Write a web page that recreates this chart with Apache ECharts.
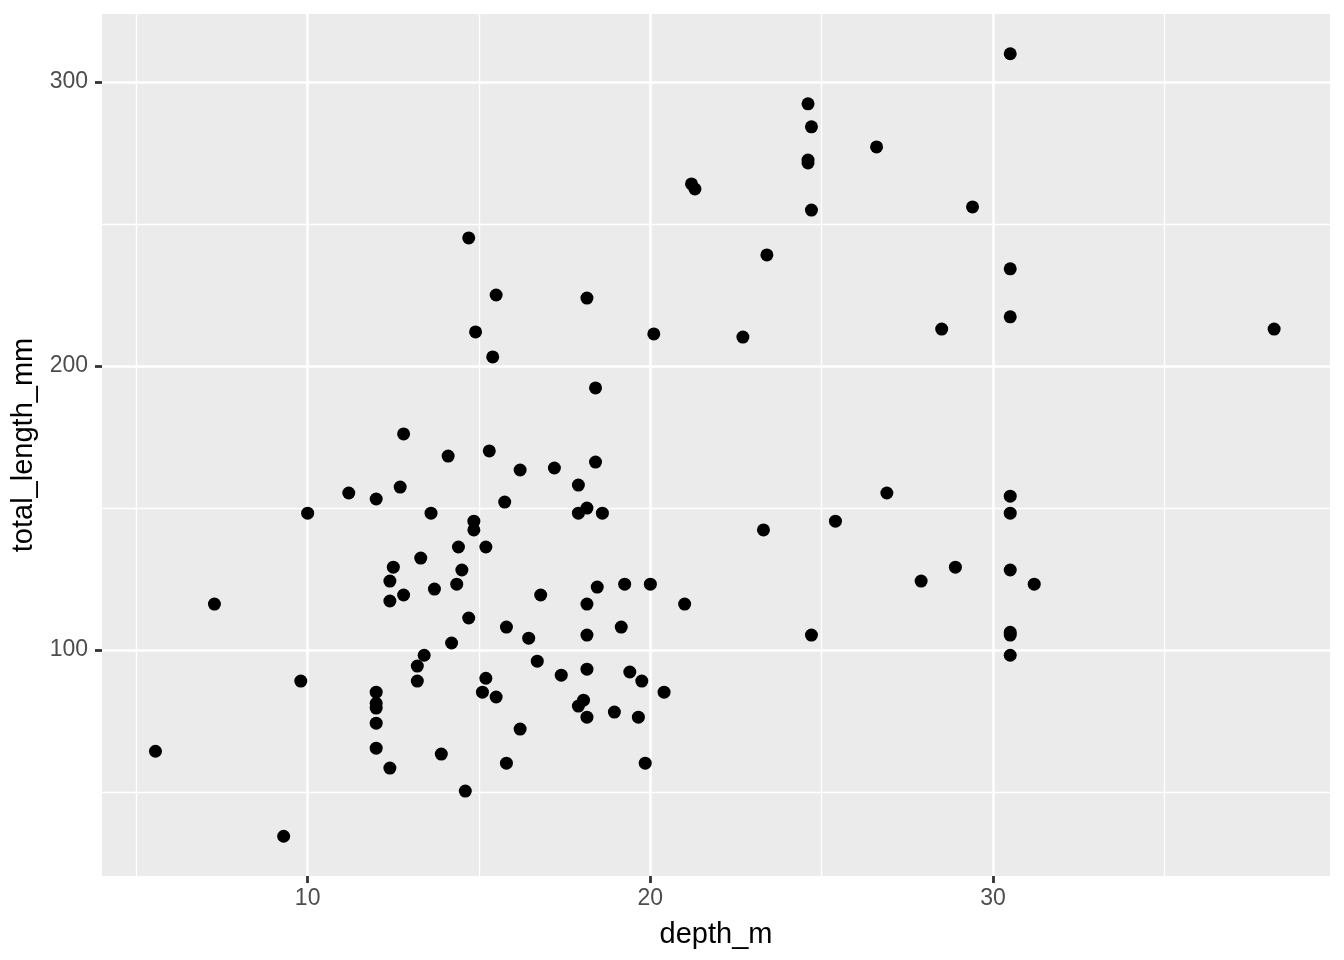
<!DOCTYPE html>
<html>
<head>
<meta charset="utf-8">
<title>total_length_mm vs depth_m</title>
<script src="https://cdn.jsdelivr.net/npm/echarts@6/dist/echarts.min.js"></script>
<style>
  html, body { margin: 0; padding: 0; background: #ffffff; }
  #chart { width: 1344px; height: 960px; }
</style>
</head>
<body>
<div id="chart"></div>
<script>
// values
var depthM = [
  5.56, 7.28, 9.3, 9.8, 10.0, 11.2, 12.0, 12.0, 12.0, 12.0,
  12.0, 12.0, 12.4, 12.4, 12.4, 12.5, 12.7, 12.8, 12.8, 13.2,
  13.2, 13.3, 13.4, 13.6, 13.7, 13.9, 14.1, 14.2, 14.35, 14.4,
  14.5, 14.6, 14.7, 14.7, 14.85, 14.85, 14.9, 15.1, 15.2, 15.2,
  15.3, 15.4, 15.5, 15.5, 15.75, 15.8, 15.8, 16.2, 16.2, 16.45,
  16.7, 16.8, 17.2, 17.4, 17.9, 17.9, 17.9, 18.05, 18.15, 18.15,
  18.15, 18.15, 18.15, 18.15, 18.4, 18.4, 18.45, 18.6, 18.95, 19.15,
  19.25, 19.4, 19.65, 19.75, 19.85, 20.0, 20.1, 20.4, 21.0, 21.2,
  21.3, 22.7, 23.3, 23.4, 24.6, 24.6, 24.6, 24.7, 24.7, 24.7,
  25.4, 26.6, 26.9, 27.9, 28.5, 28.9, 29.4, 30.5, 30.5, 30.5,
  30.5, 30.5, 30.5, 30.5, 30.5, 30.5, 31.2, 38.2
];
var totalLengthMm = [
  64.4, 116.2, 34.5, 89.1, 148.2, 155.3, 153.2, 85.2, 81.3, 79.6,
  74.3, 65.5, 58.5, 124.3, 117.3, 129.2, 157.4, 119.4, 176.1, 89.1,
  94.4, 132.4, 98.2, 148.2, 121.5, 63.4, 168.3, 102.5, 123.2, 136.3,
  128.2, 50.4, 245.1, 111.3, 145.4, 142.3, 212.0, 85.2, 90.1, 136.3,
  170.1, 203.2, 83.5, 225.0, 152.1, 108.1, 60.2, 72.2, 163.4, 104.2,
  96.1, 119.4, 164.1, 91.2, 158.1, 148.2, 80.3, 82.4, 116.2, 105.3,
  93.3, 76.4, 150.0, 223.9, 192.3, 166.2, 122.2, 148.2, 78.2, 108.1,
  123.2, 92.3, 76.4, 89.1, 60.2, 123.2, 211.3, 85.2, 116.2, 264.1,
  262.3, 210.2, 142.3, 239.1, 292.3, 272.5, 271.5, 284.2, 254.9, 105.3,
  145.4, 277.1, 155.3, 124.3, 213.0, 129.2, 256.0, 309.9, 234.2, 217.3,
  154.2, 148.2, 128.2, 106.3, 105.3, 98.2, 123.2, 213.0
];

var xMajorTicks = [10, 20, 30];
var xMinorTicks = [5, 15, 25, 35];
var yMajorTicks = [100, 200, 300];
var yMinorTicks = [50, 150, 250];

var xRange = [4.0, 39.83];
var yRange = [20.5, 323.9];

var points = depthM.map(function (d, i) { return [d, totalLengthMm[i]]; });

var font = 'Liberation Sans, Arial, Helvetica, sans-serif';

var dom = document.getElementById('chart');
var myChart = echarts.init(dom, null, { renderer: 'canvas' });

var option = {
  backgroundColor: '#ffffff',
  animation: false,
  textStyle: { fontFamily: font },
  grid: {
    left: 102,
    right: 14,
    top: 14,
    bottom: 84,
    show: true,
    backgroundColor: '#EBEBEB',
    borderWidth: 0
  },
  xAxis: [
    {
      // major grid + labels
      type: 'value',
      min: xRange[0],
      max: xRange[1],
      name: 'depth_m',
      nameLocation: 'middle',
      nameGap: 44,
      nameTextStyle: { color: '#000000', fontSize: 29, fontFamily: font },
      axisLine: { show: false },
      axisTick: {
        show: true,
        length: 7,
        customValues: xMajorTicks,
        lineStyle: { color: '#333333', width: 2.8 }
      },
      axisLabel: {
        customValues: xMajorTicks,
        color: '#4D4D4D',
        fontSize: 23,
        margin: 11,
        fontFamily: font
      },
      splitLine: { show: true, lineStyle: { color: '#ffffff', width: 2.6 } },
      z: 1
    },
    {
      // minor grid
      type: 'value',
      min: xRange[0],
      max: xRange[1],
      axisLine: { show: false },
      axisTick: { show: false, customValues: xMinorTicks },
      axisLabel: { show: false },
      splitLine: { show: true, lineStyle: { color: '#ffffff', width: 1.3 } },
      z: 0
    }
  ],
  yAxis: [
    {
      type: 'value',
      min: yRange[0],
      max: yRange[1],
      name: 'total_length_mm',
      nameLocation: 'middle',
      nameGap: 60,
      nameRotate: 90,
      nameTextStyle: { color: '#000000', fontSize: 29, fontFamily: font },
      axisLine: { show: false },
      axisTick: {
        show: true,
        length: 7,
        customValues: yMajorTicks,
        lineStyle: { color: '#333333', width: 2.8 }
      },
      axisLabel: {
        customValues: yMajorTicks,
        color: '#4D4D4D',
        fontSize: 23,
        margin: 14,
        fontFamily: font
      },
      splitLine: { show: true, lineStyle: { color: '#ffffff', width: 2.6 } },
      z: 1
    },
    {
      type: 'value',
      min: yRange[0],
      max: yRange[1],
      axisLine: { show: false },
      axisTick: { show: false, customValues: yMinorTicks },
      axisLabel: { show: false },
      splitLine: { show: true, lineStyle: { color: '#ffffff', width: 1.3 } },
      z: 0
    }
  ],
  series: [
    {
      name: 'fish',
      type: 'scatter',
      xAxisIndex: 0,
      yAxisIndex: 0,
      symbol: 'circle',
      symbolSize: 13,
      itemStyle: { color: '#000000', opacity: 1 },
      emphasis: { disabled: true },
      data: points,
      z: 5
    }
  ]
};

myChart.setOption(option);
window.addEventListener('resize', myChart.resize);
</script>
</body>
</html>
